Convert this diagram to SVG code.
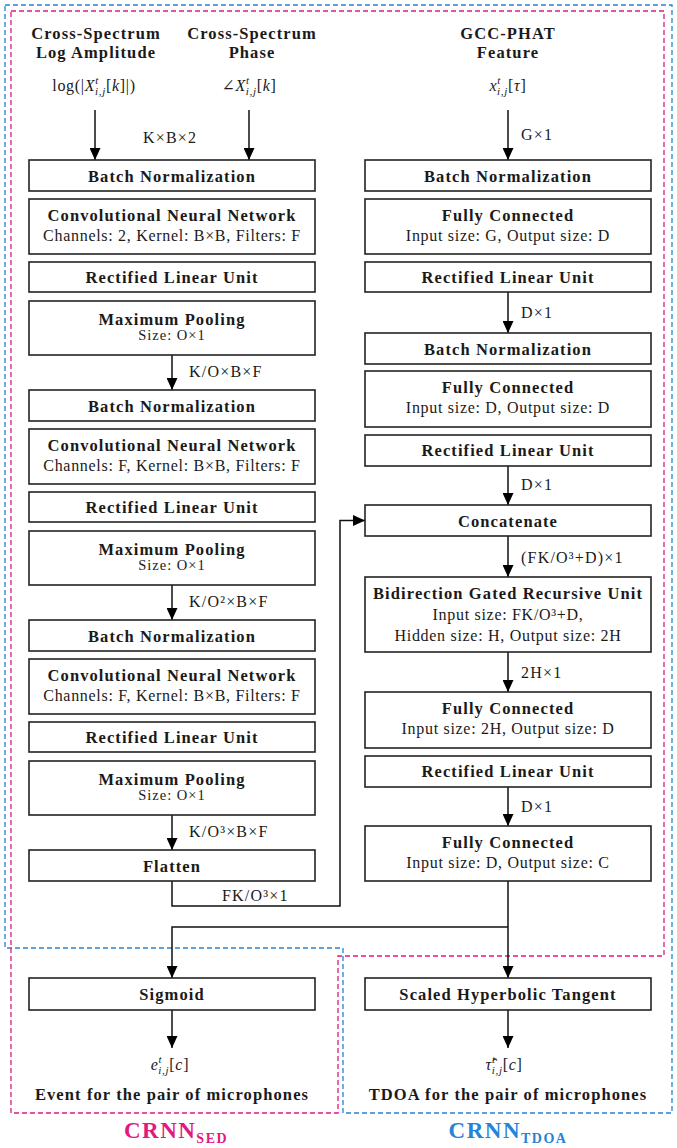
<svg xmlns="http://www.w3.org/2000/svg" width="677" height="1148" viewBox="0 0 677 1148" font-family="'Liberation Serif', 'Times New Roman', Times, 'DejaVu Serif', serif">
<style>
text{font-family:'Liberation Serif','Times New Roman',Times,'DejaVu Serif',serif;fill:#1a1a1a;text-anchor:middle}
.b{font-weight:bold;font-size:16.5px;letter-spacing:1.1px}
.r{font-size:16px;letter-spacing:0.7px}
.s{font-size:14.5px;letter-spacing:1px}
.l{font-size:16px;letter-spacing:1.2px;text-anchor:start}
.i{font-style:italic}
.sup{font-size:11px;font-style:italic}
.box{fill:#fff;stroke:#222;stroke-width:1.6}
.ca{fill:none;stroke:#111;stroke-width:1.5;marker-end:url(#ah)}
.sed{fill:none;stroke:#e3197f;stroke-width:1.3;stroke-dasharray:5,3}
.tdoa{fill:none;stroke:#2583d9;stroke-width:1.3;stroke-dasharray:5,3}
</style>
<defs>
<marker id="ah" markerWidth="12" markerHeight="11" refX="12" refY="5.5" orient="auto" markerUnits="userSpaceOnUse">
<path d="M0,0 L12,5.5 L0,11 Z" fill="#000"/>
</marker>
</defs>
<rect width="677" height="1148" fill="#fff"/>

<g id="regions">
<polygon class="tdoa" points="5,5 672,5 672,1113 343,1113 343,948 5,948"/>
<polygon class="sed" points="11,11 664,11 664,956 338,956 338,1113 11,1113"/>
<text x="176" y="1138" style="font-weight:bold;font-size:23px;letter-spacing:1.5px;fill:#e3197f">CRNN<tspan style="font-size:14px;fill:#e3197f" dy="5">SED</tspan></text>
<text x="508" y="1138" style="font-weight:bold;font-size:23px;letter-spacing:1.5px;fill:#2583d9">CRNN<tspan style="font-size:14px;fill:#2583d9" dy="5">TDOA</tspan></text>
</g>

<g id="inputs">
<text class="b" x="96" y="39">Cross-Spectrum</text>
<text class="b" x="96" y="58">Log Amplitude</text>
<text class="r" x="94" y="91">log(|<tspan class="i">X</tspan><tspan class="sup" dy="-7">t</tspan><tspan class="sup" dx="-4" dy="11">i,j</tspan><tspan dy="-4">[</tspan><tspan class="i">k</tspan>]|)</text>
<text class="b" x="252" y="39">Cross-Spectrum</text>
<text class="b" x="252" y="58">Phase</text>
<text class="r" x="249" y="91">∠<tspan class="i">X</tspan><tspan class="sup" dy="-7">t</tspan><tspan class="sup" dx="-4" dy="11">i,j</tspan><tspan dy="-4">[</tspan><tspan class="i">k</tspan>]</text>
<text class="b" x="508" y="39">GCC-PHAT</text>
<text class="b" x="508" y="58">Feature</text>
<text class="r" x="508" y="91"><tspan class="i">x</tspan><tspan class="sup" dy="-7">t</tspan><tspan class="sup" dx="-4" dy="11">i,j</tspan><tspan dy="-4">[</tspan><tspan class="i">τ</tspan>]</text>
</g>

<g id="connectors">
<line class="ca" x1="95" y1="110" x2="95" y2="160"/>
<line class="ca" x1="249" y1="110" x2="249" y2="160"/>
<line class="ca" x1="508" y1="110" x2="508" y2="160"/>
<line class="ca" x1="172" y1="355" x2="172" y2="390"/>
<line class="ca" x1="172" y1="585" x2="172" y2="620"/>
<line class="ca" x1="172" y1="815" x2="172" y2="850"/>
<polyline class="ca" points="172,881 172,906 340,906 340,520.5 365,520.5"/>
<line class="ca" x1="508" y1="292" x2="508" y2="333"/>
<line class="ca" x1="508" y1="466" x2="508" y2="505"/>
<line class="ca" x1="508" y1="536" x2="508" y2="577"/>
<line class="ca" x1="508" y1="652" x2="508" y2="692"/>
<line class="ca" x1="508" y1="787" x2="508" y2="826"/>
<line class="ca" x1="508" y1="881" x2="508" y2="978"/>
<polyline class="ca" points="508,927 172,927 172,978"/>
<line class="ca" x1="172" y1="1010" x2="172" y2="1048"/>
<line class="ca" x1="508" y1="1010" x2="508" y2="1048"/>
<text class="l" x="143" y="143">K×B×2</text>
<text class="l" x="521" y="140">G×1</text>
<text class="l" x="189" y="377">K/O×B×F</text>
<text class="l" x="189" y="607">K/O²×B×F</text>
<text class="l" x="189" y="837">K/O³×B×F</text>
<text class="l" x="222" y="901">FK/O³×1</text>
<text class="l" x="521" y="318">D×1</text>
<text class="l" x="521" y="490">D×1</text>
<text class="l" x="521" y="563">(FK/O³+D)×1</text>
<text class="l" x="521" y="678">2H×1</text>
<text class="l" x="521" y="812">D×1</text>
</g>

<g id="sed-bn1"><rect class="box" x="29" y="160" width="286" height="31"/><text class="b" x="172" y="181.5">Batch Normalization</text></g>
<g id="sed-cnn1"><rect class="box" x="29" y="199" width="286" height="55"/><text class="b" x="172" y="221">Convolutional Neural Network</text><text class="r" x="172" y="241">Channels: 2, Kernel: B×B, Filters: F</text></g>
<g id="sed-relu1"><rect class="box" x="29" y="262" width="286" height="30"/><text class="b" x="172" y="283">Rectified Linear Unit</text></g>
<g id="sed-mp1"><rect class="box" x="29" y="301" width="286" height="54"/><text class="b" x="172" y="325">Maximum Pooling</text><text class="s" x="172" y="340">Size: O×1</text></g>

<g id="sed-bn2"><rect class="box" x="29" y="390" width="286" height="31"/><text class="b" x="172" y="411.5">Batch Normalization</text></g>
<g id="sed-cnn2"><rect class="box" x="29" y="429" width="286" height="55"/><text class="b" x="172" y="451">Convolutional Neural Network</text><text class="r" x="172" y="471">Channels: F, Kernel: B×B, Filters: F</text></g>
<g id="sed-relu2"><rect class="box" x="29" y="492" width="286" height="30"/><text class="b" x="172" y="513">Rectified Linear Unit</text></g>
<g id="sed-mp2"><rect class="box" x="29" y="531" width="286" height="54"/><text class="b" x="172" y="555">Maximum Pooling</text><text class="s" x="172" y="570">Size: O×1</text></g>

<g id="sed-bn3"><rect class="box" x="29" y="620" width="286" height="31"/><text class="b" x="172" y="641.5">Batch Normalization</text></g>
<g id="sed-cnn3"><rect class="box" x="29" y="659" width="286" height="55"/><text class="b" x="172" y="681">Convolutional Neural Network</text><text class="r" x="172" y="701">Channels: F, Kernel: B×B, Filters: F</text></g>
<g id="sed-relu3"><rect class="box" x="29" y="722" width="286" height="30"/><text class="b" x="172" y="743">Rectified Linear Unit</text></g>
<g id="sed-mp3"><rect class="box" x="29" y="761" width="286" height="54"/><text class="b" x="172" y="785">Maximum Pooling</text><text class="s" x="172" y="800">Size: O×1</text></g>
<g id="sed-flatten"><rect class="box" x="29" y="850" width="286" height="31"/><text class="b" x="172" y="871.5">Flatten</text></g>

<g id="tdoa-bn1"><rect class="box" x="365" y="160" width="286" height="31"/><text class="b" x="508" y="181.5">Batch Normalization</text></g>
<g id="tdoa-fc1"><rect class="box" x="365" y="199" width="286" height="55"/><text class="b" x="508" y="221">Fully Connected</text><text class="r" x="508" y="241">Input size: G, Output size: D</text></g>
<g id="tdoa-relu1"><rect class="box" x="365" y="262" width="286" height="30"/><text class="b" x="508" y="283">Rectified Linear Unit</text></g>
<g id="tdoa-bn2"><rect class="box" x="365" y="333" width="286" height="31"/><text class="b" x="508" y="354.5">Batch Normalization</text></g>
<g id="tdoa-fc2"><rect class="box" x="365" y="371" width="286" height="56"/><text class="b" x="508" y="393">Fully Connected</text><text class="r" x="508" y="413">Input size: D, Output size: D</text></g>
<g id="tdoa-relu2"><rect class="box" x="365" y="435" width="286" height="31"/><text class="b" x="508" y="456">Rectified Linear Unit</text></g>
<g id="concat"><rect class="box" x="365" y="505" width="286" height="31"/><text class="b" x="508" y="526.5">Concatenate</text></g>
<g id="bigru"><rect class="box" x="365" y="577" width="286" height="75"/><text class="b" x="508" y="599">Bidirection Gated Recursive Unit</text><text class="r" x="508" y="620">Input size: FK/O³+D,</text><text class="r" x="508" y="641">Hidden size: H, Output size: 2H</text></g>
<g id="tdoa-fc3"><rect class="box" x="365" y="692" width="286" height="56"/><text class="b" x="508" y="714">Fully Connected</text><text class="r" x="508" y="734">Input size: 2H, Output size: D</text></g>
<g id="tdoa-relu3"><rect class="box" x="365" y="756" width="286" height="31"/><text class="b" x="508" y="777">Rectified Linear Unit</text></g>
<g id="tdoa-fc4"><rect class="box" x="365" y="826" width="286" height="55"/><text class="b" x="508" y="848">Fully Connected</text><text class="r" x="508" y="868">Input size: D, Output size: C</text></g>

<g id="sigmoid"><rect class="box" x="29" y="978" width="286" height="32"/><text class="b" x="172" y="999.5">Sigmoid</text></g>
<g id="tanh"><rect class="box" x="365" y="978" width="286" height="32"/><text class="b" x="508" y="999.5">Scaled Hyperbolic Tangent</text></g>

<g id="outputs">
<text class="r" x="170" y="1070"><tspan class="i">e</tspan><tspan class="sup" dy="-7">t</tspan><tspan class="sup" dx="-4" dy="11">i,j</tspan><tspan dy="-4">[</tspan><tspan class="i">c</tspan>]</text>
<text class="b" x="172" y="1100">Event for the pair of microphones</text>
<text class="r" x="504" y="1070"><tspan class="i">τ̂</tspan><tspan class="sup" dy="-7">t</tspan><tspan class="sup" dx="-4" dy="11">i,j</tspan><tspan dy="-4">[</tspan><tspan class="i">c</tspan>]</text>
<text class="b" x="508" y="1100">TDOA for the pair of microphones</text>
</g>
</svg>
